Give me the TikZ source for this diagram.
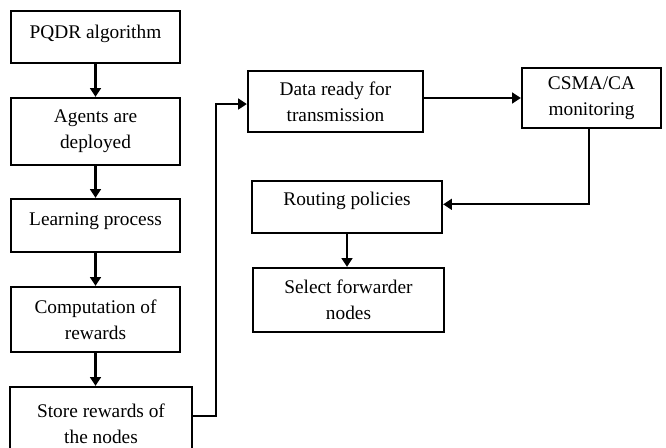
\documentclass[tikz,border=0pt]{standalone}
\usepackage{fontspec}
\setmainfont{Liberation Serif}
\usetikzlibrary{arrows.meta}
\begin{document}
\begin{tikzpicture}[x=0.75pt,y=-0.75pt,
  box/.style={draw, line width=1.7pt, align=center, inner sep=0pt,
    font=\fontsize{14.5}{19.5}\selectfont},
  arr/.style={line width=1.7pt, -{Triangle[length=6.5pt,width=8pt]}},
  ln/.style={line width=1.7pt}]
\useasboundingbox (0,0) rectangle (666,448);
\node[box, minimum width=126.75pt, minimum height=39pt, text depth=8.5pt] (b1) at (95.5,37) {PQDR algorithm};
\node[box, minimum width=126.75pt, minimum height=50.25pt] (b2) at (95.5,131.5) {Agents are\\deployed};
\node[box, minimum width=126.75pt, minimum height=39.75pt, text depth=9.5pt] (b3) at (95.5,225.5) {Learning process};
\node[box, minimum width=126.75pt, minimum height=48.75pt] (b4) at (95.5,319.5) {Computation of\\rewards};
\node[box, minimum width=136.5pt, minimum height=54.75pt] (b5) at (101,423.5) {Store rewards of\\the nodes};
\node[box, minimum width=131.25pt, minimum height=45.75pt] (b6) at (335.5,101.5) {Data ready for\\transmission};
\node[box, minimum width=104.25pt, minimum height=45pt] (b7) at (591.5,98) {CSMA/CA\\monitoring};
\node[box, minimum width=142.5pt, minimum height=39pt, text depth=12pt] (b8) at (347,207) {Routing policies};
\node[box, minimum width=143.25pt, minimum height=48pt] (b9) at (348.5,300) {Select forwarder\\nodes};
\draw[arr] (b1.south) -- (b2.north);
\draw[arr] (b2.south) -- (b3.north);
\draw[arr] (b3.south) -- (b4.north);
\draw[arr] (b4.south) -- (b5.north -| b4.south);
\draw[arr] ([yshift=5.6pt]b5.east) -- ++(23,0) |- ([yshift=-1.9pt]b6.west);
\draw[arr] (b6.east |- b7.west) -- (b7.west);
\draw[arr] ([xshift=-2pt]b7.south) |- ([yshift=2pt]b8.east);
\draw[arr] (b8.south) -- (b8.south |- b9.north);
\end{tikzpicture}
\end{document}
